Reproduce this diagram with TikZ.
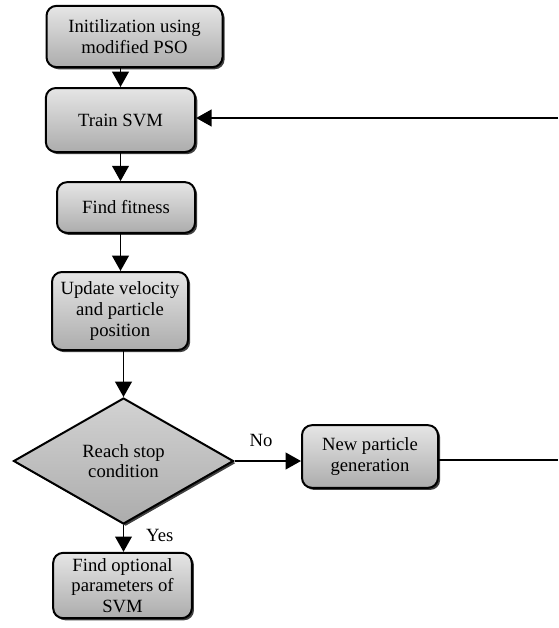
\documentclass[tikz,border=0pt]{standalone}
\usepackage{fontspec}
\setmainfont{Liberation Serif}
\usetikzlibrary{shapes.geometric,shadows,arrows.meta}
\tikzstyle{step box} = [rectangle,rounded corners=7.5pt,draw,line width=1.5pt,
    top color=gray!20,bottom color=gray!65,align=center,inner sep=0pt,
    drop shadow={shadow xshift=1.6pt,shadow yshift=-1.6pt,fill=black!75,opacity=1}]
\tikzstyle{test box} = [diamond,aspect=1.75,draw,line width=1.5pt,
    top color=gray!35,bottom color=gray!65,align=center,inner sep=0pt,
    drop shadow={shadow xshift=1.6pt,shadow yshift=-1.6pt,fill=black!75,opacity=1}]
\tikzstyle{arr} = [line width=1.4pt,-{Triangle[length=11.5pt,width=12.5pt]}]

\begin{document}
\begin{tikzpicture}[x=0.75pt,y=-0.75pt,font=\fontsize{14}{15.5}\selectfont]

    \useasboundingbox (0,0) rectangle (558,628);

    % main steps
    \node(init)[step box, minimum width=132pt, minimum height=46pt] at (134.5,36.5) {Initilization using\\modified PSO};
    \node(train)[step box, minimum width=112pt, minimum height=48pt] at (120.5,120) {Train SVM};
    \node(fitness)[step box, minimum width=103.5pt, minimum height=38pt] at (126,207.5) {Find fitness};
    \node(update)[step box, minimum width=102pt, minimum height=58.5pt] at (120,311) {Update velocity\\and particle\\position};
    % stop test
    \node(stop)[test box, minimum width=165pt, minimum height=94.5pt] at (123.5,461) {Reach stop\\condition};
    \node(newgen)[step box, minimum width=102pt, minimum height=47pt] at (370,456.5) {New particle\\generation};
    \node(result)[step box, minimum width=104pt, minimum height=49pt] at (122.5,585.5) {Find optional\\parameters of\\SVM};

    % loop ends at the right edge
    \coordinate(outR) at (558,460);
    \coordinate(inR) at (558,118);

    \draw[arr] (init.south -| train.north) -- (train.north);
    \draw[arr] (train.south) -- (fitness.north -| train.south);
    \draw[arr] (fitness.south -| train.south) -- (update.north -| train.south);
    \draw[arr] (update.south -| stop.north) -- (stop.north);
    \draw[arr] (stop.east) -- (newgen.west |- stop.east) node[pos=.4, above=7pt]{No};
    \draw[arr] (stop.south) -- (result.north -| stop.south) node[pos=.4, right=13pt]{Yes};
    \draw[line width=1.4pt] (newgen.east |- outR) -- (outR);
    \draw[arr] (inR) -- (train.east |- inR);

\end{tikzpicture}
\end{document}
